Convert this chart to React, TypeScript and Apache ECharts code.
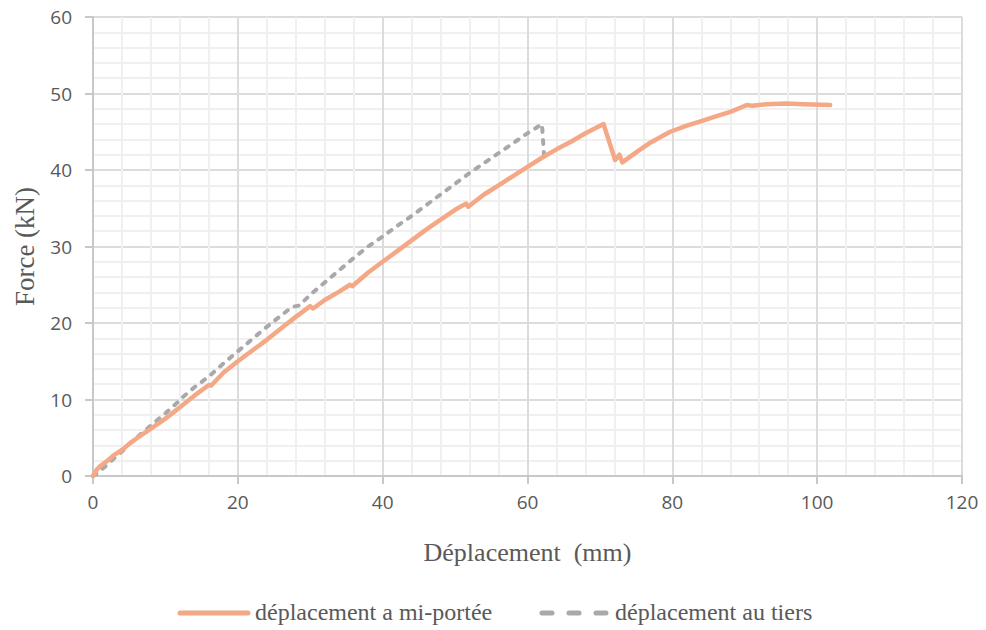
import React, { useEffect, useRef } from "react";
import * as echarts from "echarts";

const seriesNames = ["déplacement a mi-portée", "déplacement au tiers"];

const midSpan: [number, number][] = [
  [0, 0], [0.5, 0.8], [1, 1.3], [2, 2.0], [3, 2.8], [4, 3.4], [5, 4.2], [6, 4.9],
  [8, 6.2], [10, 7.5], [12, 9.0], [14, 10.5], [16, 11.9], [16.3, 11.8], [18, 13.5],
  [20, 15.0], [22, 16.4], [24, 17.8], [26, 19.3], [28, 20.8], [30, 22.2], [30.4, 21.9],
  [32, 23.0], [34, 24.1], [35.5, 25.0], [35.8, 24.8], [38, 26.6], [40, 28.0], [42, 29.4],
  [44, 30.8], [46, 32.2], [48, 33.5], [50, 34.8], [51.5, 35.6], [51.8, 35.2], [54, 36.8],
  [56, 38.0], [58, 39.2], [60, 40.4], [62, 41.6], [64, 42.7], [66, 43.7], [68, 44.8],
  [70.5, 46.0], [72.1, 41.3], [72.7, 42.0], [73.1, 41.0], [75, 42.3], [77, 43.6],
  [79.7, 45.0], [82, 45.8], [84, 46.4], [86, 47.0], [88, 47.6], [90.3, 48.5], [91, 48.4],
  [93, 48.6], [95.8, 48.7], [98, 48.6], [101.8, 48.5],
];

const third: [number, number][] = [
  [0, 0], [0.5, 0.3], [1, 0.7], [2, 1.5], [3, 2.4], [4, 3.2], [5, 4.2], [6, 5.0],
  [8, 6.6], [10, 8.2], [12, 9.9], [12.5, 10.4], [14, 11.6], [16, 13.0], [18, 14.7],
  [20, 16.3], [22, 17.9], [24, 19.5], [26, 21.0], [27.5, 22.1], [28.5, 22.3], [30, 23.7],
  [32, 25.3], [34, 26.9], [36, 28.5], [38, 30.0], [40, 31.3], [42, 32.7], [44, 34.0],
  [46, 35.4], [48, 36.8], [50, 38.2], [52, 39.6], [54, 40.9], [56, 42.2], [58, 43.5],
  [60, 44.8], [62, 46.0], [62.3, 41.7],
];

const xTitle = "Déplacement  (mm)";
const yTitle = "Force (kN)";

const tickFont = "'Open Sans', sans-serif";
const serif = "'Liberation Serif', 'DejaVu Serif', serif";
const ORANGE = "#F4A886";
const GRAY = "#A9A9AB";
const TEXT = "#595959";

export default function App() {
  const ref = useRef<HTMLDivElement>(null);
  useEffect(() => {
    if (!ref.current) return;
    const chart = echarts.init(ref.current, undefined, { renderer: "svg" });
    const axisCommon = {
      axisLine: { show: true, lineStyle: { color: "#C8C8C8", width: 2 } },
      axisTick: { show: true, length: 8, lineStyle: { color: "#C8C8C8", width: 2 } },
      axisLabel: { color: TEXT, fontSize: 19, fontFamily: tickFont },
      splitLine: { show: true, lineStyle: { color: "#DCDCDC", width: 2 } },
      minorTick: { show: false, splitNumber: 5 },
      minorSplitLine: { show: true, lineStyle: { color: "#F0F0F0", width: 2 } },
      nameLocation: "middle" as const,
    };
    const legendText = {
      color: TEXT,
      fontSize: 24,
      fontFamily: serif,
      fontWeight: "normal" as const,
    };
    chart.setOption({
      animation: false,
      title: [
        { text: seriesNames[0], left: 255, top: 600, padding: 0, textStyle: legendText },
        { text: seriesNames[1], left: 615, top: 600, padding: 0, textStyle: legendText },
      ],
      grid: {
        left: 93,
        right: 24,
        top: 17,
        bottom: 154,
        containLabel: false,
        outerBoundsMode: "none",
      },
      xAxis: {
        type: "value",
        min: 0,
        max: 120,
        interval: 20,
        name: xTitle,
        nameGap: 63,
        nameTextStyle: { color: TEXT, fontSize: 26, fontFamily: serif },
        ...axisCommon,
        axisLabel: { ...axisCommon.axisLabel, margin: 16 },
      },
      yAxis: {
        type: "value",
        min: 0,
        max: 60,
        interval: 10,
        name: yTitle,
        nameGap: 55,
        nameTextStyle: { color: TEXT, fontSize: 27, fontFamily: serif },
        ...axisCommon,
        axisLabel: { ...axisCommon.axisLabel, margin: 21 },
      },
      graphic: [
        {
          type: "line",
          shape: { x1: 180, y1: 613, x2: 248, y2: 613 },
          style: { stroke: ORANGE, lineWidth: 5, lineCap: "round" },
        },
        {
          type: "line",
          shape: { x1: 542, y1: 613, x2: 610, y2: 613 },
          style: { stroke: GRAY, lineWidth: 5, lineCap: "round", lineDash: [10, 17] },
        },
      ],
      series: [
        {
          name: seriesNames[0],
          type: "line",
          data: midSpan,
          showSymbol: false,
          symbol: "none",
          lineStyle: { color: ORANGE, width: 4.5, join: "round", cap: "round" },
          itemStyle: { color: ORANGE },
          z: 3,
        },
        {
          name: seriesNames[1],
          type: "line",
          data: third,
          showSymbol: false,
          symbol: "none",
          lineStyle: { color: GRAY, width: 4, type: [4, 8], cap: "round", join: "round" },
          itemStyle: { color: GRAY },
          z: 2,
        },
      ],
    });
    return () => chart.dispose();
  }, []);
  return (
    <div
      ref={ref}
      style={{ position: "absolute", left: 0, top: 0, width: 986, height: 630 }}
    />
  );
}
